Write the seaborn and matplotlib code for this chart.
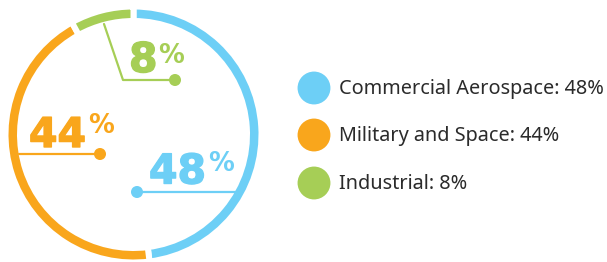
import matplotlib
matplotlib.use("Agg")
import matplotlib.pyplot as plt
import matplotlib.patheffects as pe
import seaborn as sns
import pandas as pd

# data
segments = ["Commercial Aerospace", "Military and Space", "Industrial"]
shares = [48, 44, 8]
colors = ["#6DCFF6", "#F9A61C", "#A6CE56"]

sns.set_theme(style="white")
plt.rcParams["font.family"] = ["Noto Sans", "DejaVu Sans"]

W, H = 607, 262
fig = plt.figure(figsize=(W / 100, H / 100), dpi=100)
ax = fig.add_axes([0, 0, 1, 1])

def Y(y):
    # image row -> data y
    return H - y

cx, cy = 133.5, Y(134.5)
gap = 6      # px of white between segments
ring = 8.5   # visible ring thickness px
R = 125 + gap / 2
ax.pie(shares, colors=colors, startangle=90, counterclock=False,
       center=(cx, cy), radius=R, frame=True,
       wedgeprops=dict(width=ring + gap, edgecolor="white",
                       linewidth=gap * 0.72))

# leader lines (image coords) and value labels
lw = 1.6
ax.plot([104, 123, 175], [Y(24), Y(80), Y(80)], color=colors[2], lw=lw)
ax.plot([19, 100], [Y(154), Y(154)], color=colors[1], lw=lw)
ax.plot([137, 236], [Y(192), Y(192)], color=colors[0], lw=lw)
dots = pd.DataFrame({"x": [137, 100, 175], "y": [Y(192), Y(154), Y(80)],
                     "seg": segments})
sns.scatterplot(data=dots, x="x", y="y", hue="seg", palette=colors,
                s=75, linewidth=0, legend=False, ax=ax)

big = dict(fontsize=29.5, fontweight="bold", family="DejaVu Sans",
           ha="left", va="baseline")
small = dict(fontsize=18.5, fontweight="bold", family="DejaVu Sans",
             ha="left", va="baseline")
label_pos = [((149, 183.5), (208, 171)),
             ((29, 147), (88, 133)),
             ((129, 72), (158, 63))]
for (n_xy, p_xy), v, c in zip(label_pos, shares, colors):
    t = ax.text(n_xy[0], Y(n_xy[1]), f"{v}", color=c, **big)
    t.set_path_effects([pe.withStroke(linewidth=1.0, foreground=c)])
    ax.text(p_xy[0], Y(p_xy[1]), "%", color=c, **small)

# legend
leg_y = [88, 135, 183]
leg = pd.DataFrame({"x": [314] * 3, "y": [Y(v) for v in leg_y], "seg": segments})
sns.scatterplot(data=leg, x="x", y="y", hue="seg", palette=colors,
                s=560, linewidth=0, legend=False, ax=ax)
for yy, name, v in zip(leg_y, segments, shares):
    ax.text(339, Y(yy + 6), f"{name}: {v}%", color="#2b2b2b",
            fontsize=14.3, ha="left", va="baseline")

ax.set_xlim(0, W)
ax.set_ylim(0, H)
ax.set_aspect("equal")
ax.axis("off")
fig.savefig("out.png", dpi=100)
